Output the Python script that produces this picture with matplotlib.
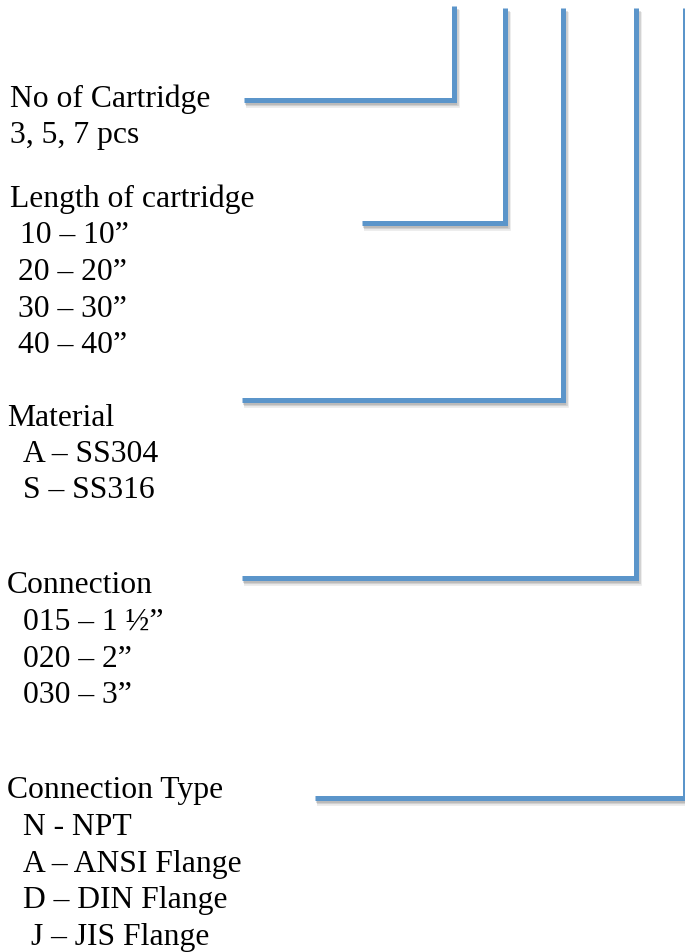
import matplotlib
matplotlib.use("Agg")
import matplotlib.pyplot as plt
import matplotlib.patheffects as pe

W, H = 685, 952

# ---- data ----
connector_x = [454, 505, 563, 636, 685]        # vertical leg x
connector_y = [100, 223, 400, 578, 798]        # horizontal leg y
connector_start = [244, 362, 242, 242, 315]    # horizontal leg left end
connector_top = [6, 8, 8, 8, 8]                # vertical leg top

labels = [
    "No of Cartridge", "3, 5, 7 pcs",
    "Length of cartridge", "10 – 10”", "20 – 20”", "30 – 30”", "40 – 40”",
    "Material", "A – SS304", "S – SS316",
    "Connection", "015 – 1 ½”", "020 – 2”", "030 – 3”",
    "Connection Type", "N - NPT", "A – ANSI Flange", "D – DIN Flange", "J – JIS Flange",
]
label_baseline = [107, 143, 207, 243, 280, 317, 353, 426, 462, 498,
                  593, 630, 667, 703, 798, 835, 872, 908, 945]
label_left = [10, 10, 10, 20, 18, 18, 18, 7, 23, 23,
              7, 23, 23, 23, 7, 23, 23, 23, 31]

fig = plt.figure(figsize=(W / 100, H / 100), dpi=100)
ax = fig.add_axes([0, 0, 1, 1])
ax.set_xlim(0, W)
ax.set_ylim(H, 0)
ax.axis("off")

blue = "#5B95CA"
shadow = [
    pe.SimpleLineShadow(offset=(1.2, -2.6), shadow_color="#7a7a7a", alpha=0.16, linewidth=5.5),
    pe.SimpleLineShadow(offset=(1.2, -2.4), shadow_color="#7a7a7a", alpha=0.22, linewidth=4.2),
    pe.SimpleLineShadow(offset=(1.0, -2.2), shadow_color="#7a7a7a", alpha=0.25, linewidth=3.0),
    pe.Normal(),
]
for xs, ys, x0, yt in zip(connector_x, connector_y, connector_start, connector_top):
    ax.plot([x0, xs, xs], [ys, ys, yt], color=blue, lw=3.6,
            solid_joinstyle="miter", solid_capstyle="butt",
            path_effects=shadow)

for txt, yb, xl in zip(labels, label_baseline, label_left):
    ax.text(xl, yb, txt, fontsize=22.8, family="Liberation Serif",
            ha="left", va="baseline", color="black")

fig.savefig("out.png", dpi=100)
